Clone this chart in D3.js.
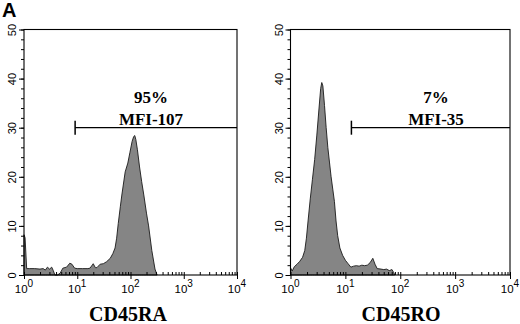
<!DOCTYPE html>
<html>
<head>
<meta charset="utf-8">
<script src="https://cdn.jsdelivr.net/npm/d3@7"></script>
<style>
  body { margin: 0; background: #fff; }
  svg text { fill: #000; }
</style>
</head>
<body>
<div id="chart"></div>
<script>
// histogram readings: fluorescence position in decades (log10) and cell count
const raDecades = [0, 0.02, 0.05, 0.1, 0.2, 0.3, 0.36, 0.4, 0.44, 0.48, 0.52, 0.55, 0.58, 0.63, 0.68, 0.73, 0.8, 0.86, 0.9, 0.95, 1.0, 1.1, 1.2, 1.24, 1.3, 1.34, 1.37, 1.43, 1.49, 1.55, 1.62, 1.67, 1.71, 1.74, 1.77, 1.81, 1.84, 1.9, 1.95, 1.99, 2.03, 2.06, 2.08, 2.1, 2.13, 2.17, 2.21, 2.25, 2.3, 2.34, 2.4, 2.46, 2.5];
const raCounts  = [8.2, 7.6, 1.3, 1.3, 1.3, 1.2, 1.3, 1.0, 1.6, 1.2, 1.6, 0.9, 0, 0, 0.4, 1.4, 1.6, 2.4, 2.2, 1.4, 1.3, 1.3, 1.3, 1.4, 2.3, 1.5, 1.5, 2.2, 2.3, 2.7, 3.4, 4.4, 5.5, 7.5, 10.5, 14, 16.5, 21, 22.8, 25, 27.2, 28.2, 28.4, 27.6, 25.5, 22, 19, 16.3, 12.6, 10, 5, 1.2, 0];

const roDecades = [0, 0.03, 0.07, 0.12, 0.17, 0.22, 0.26, 0.29, 0.32, 0.36, 0.4, 0.44, 0.48, 0.52, 0.55, 0.57, 0.59, 0.62, 0.65, 0.68, 0.71, 0.74, 0.77, 0.8, 0.83, 0.86, 0.9, 0.95, 1.0, 1.05, 1.1, 1.15, 1.2, 1.25, 1.3, 1.35, 1.4, 1.45, 1.5, 1.54, 1.58, 1.65, 1.7, 1.75, 1.8, 1.85, 1.88, 1.9];
const roCounts  = [1.5, 0.8, 1.7, 2.2, 2.8, 3.6, 5.0, 7.5, 11, 15.5, 19.5, 23.5, 28.5, 34, 38, 39.2, 38.5, 34.5, 30, 26, 23, 20, 17.5, 15, 11, 8, 5.5, 4, 3, 2.3, 1.6, 1.8, 1.9, 1.8, 2.0, 1.9, 2.0, 2.5, 3.4, 2.2, 1.3, 1.2, 1.1, 1.2, 0.9, 1.1, 0.5, 0];

const yTicks = [0, 10, 20, 30, 40, 50];
const decadeTicks = [0, 1, 2, 3, 4];
const markers = ["CD45RA", "CD45RO"];
const percents = ["95%", "7%"];
const mfiLabels = ["MFI-107", "MFI-35"];
const gateStart = [0.96, 1.11];   // gate left end, decades
const gateLevel = 30;

const W = 520, H = 324;
const svg = d3.select("#chart").append("svg")
    .attr("width", W).attr("height", H);

svg.append("text")
    .attr("x", 2).attr("y", 17)
    .attr("font-family", "Liberation Sans, Arial, sans-serif")
    .attr("font-weight", "bold")
    .attr("font-size", 20)
    .text("A");

const panels = [
    {left: 24, right: 237, decades: raDecades, counts: raCounts, i: 0},
    {left: 290.5, right: 510, decades: roDecades, counts: roCounts, i: 1}
];

const plotTop = 29.5, plotBottom = 275;

panels.forEach(function(p) {
    let x = d3.scaleLog().domain([1, 1e4]).range([p.left, p.right]);
    let y = d3.scaleLinear().domain([0, 50]).range([plotBottom, plotTop]);

    let g = svg.append("g");

    let hist = p.decades.map(function(d, k) { return {v: Math.pow(10, d), c: p.counts[k]}; });

    // histogram
    let area = d3.area()
        .x(function(d) { return x(d.v); })
        .y0(y(0))
        .y1(function(d) { return y(d.c); });
    g.append("path")
        .datum(hist)
        .attr("d", area)
        .attr("fill", "#858585")
        .attr("stroke", "#1a1a1a")
        .attr("stroke-width", 0.9)
        .attr("stroke-linejoin", "round");

    // frame
    g.append("rect")
        .attr("x", p.left).attr("y", plotTop)
        .attr("width", p.right - p.left).attr("height", plotBottom - plotTop)
        .attr("fill", "none")
        .attr("stroke", "#000")
        .attr("stroke-width", 1.1);

    // y axis: minor then major
    g.append("g")
        .attr("transform", "translate(" + p.left + ",0)")
        .call(d3.axisLeft(y).tickValues(d3.range(0, 51, 2)).tickSize(3).tickFormat(""))
        .call(function(a) { a.select(".domain").remove(); });
    let ya = g.append("g")
        .attr("transform", "translate(" + p.left + ",0)")
        .call(d3.axisLeft(y).tickValues(yTicks).tickSize(5));
    ya.select(".domain").remove();
    ya.selectAll("text")
        .attr("x", null).attr("dy", null)
        .attr("transform", "translate(-8,0) rotate(-90)")
        .attr("text-anchor", "middle")
        .attr("font-family", "Liberation Sans, Arial, sans-serif")
        .attr("font-size", 11);

    // x axis: log minor ticks inward, decade ticks crossing
    let xa = g.append("g")
        .attr("transform", "translate(0," + plotBottom + ")")
        .call(d3.axisTop(x).ticks(10).tickSize(3).tickFormat(""));
    xa.select(".domain").remove();
    g.append("g")
        .attr("transform", "translate(0," + plotBottom + ")")
        .call(d3.axisBottom(x).tickValues(decadeTicks.map(function(d) { return Math.pow(10, d); })).tickSize(4).tickFormat(""))
        .call(function(a) { a.select(".domain").remove(); });

    let labels = g.selectAll(".xl")
        .data(decadeTicks)
        .enter()
        .append("text")
        .attr("class", "xl")
        .attr("x", function(d) { return x(Math.pow(10, d)); })
        .attr("y", 293)
        .attr("text-anchor", "middle")
        .attr("font-family", "Liberation Sans, Arial, sans-serif")
        .attr("font-size", 11.5);
    labels.append("tspan").text("10");
    labels.append("tspan")
        .attr("dy", -6)
        .attr("font-size", 10)
        .text(function(d) { return d; });

    // gate
    let gx0 = x(Math.pow(10, gateStart[p.i])), gx1 = x(1e4), gy = y(gateLevel);
    g.append("line")
        .attr("x1", gx0).attr("x2", gx1).attr("y1", gy).attr("y2", gy)
        .attr("stroke", "#000").attr("stroke-width", 1.3);
    g.append("line")
        .attr("x1", gx0).attr("x2", gx0).attr("y1", gy - 7).attr("y2", gy + 7)
        .attr("stroke", "#000").attr("stroke-width", 1.5);

    let cx = p.i == 0 ? 151 : 436;
    g.append("text")
        .attr("x", cx).attr("y", gy - 25)
        .attr("text-anchor", "middle")
        .attr("font-family", "Liberation Serif, Times New Roman, serif")
        .attr("font-weight", "bold")
        .attr("font-size", 17)
        .text(percents[p.i]);
    g.append("text")
        .attr("x", cx).attr("y", gy - 3)
        .attr("text-anchor", "middle")
        .attr("font-family", "Liberation Serif, Times New Roman, serif")
        .attr("font-weight", "bold")
        .attr("font-size", 17)
        .text(mfiLabels[p.i]);

    // marker title
    g.append("text")
        .attr("x", p.i == 0 ? 128 : 401).attr("y", 321)
        .attr("text-anchor", "middle")
        .attr("font-family", "Liberation Serif, Times New Roman, serif")
        .attr("font-weight", "bold")
        .attr("font-size", 20)
        .text(markers[p.i]);
});
</script>
</body>
</html>
